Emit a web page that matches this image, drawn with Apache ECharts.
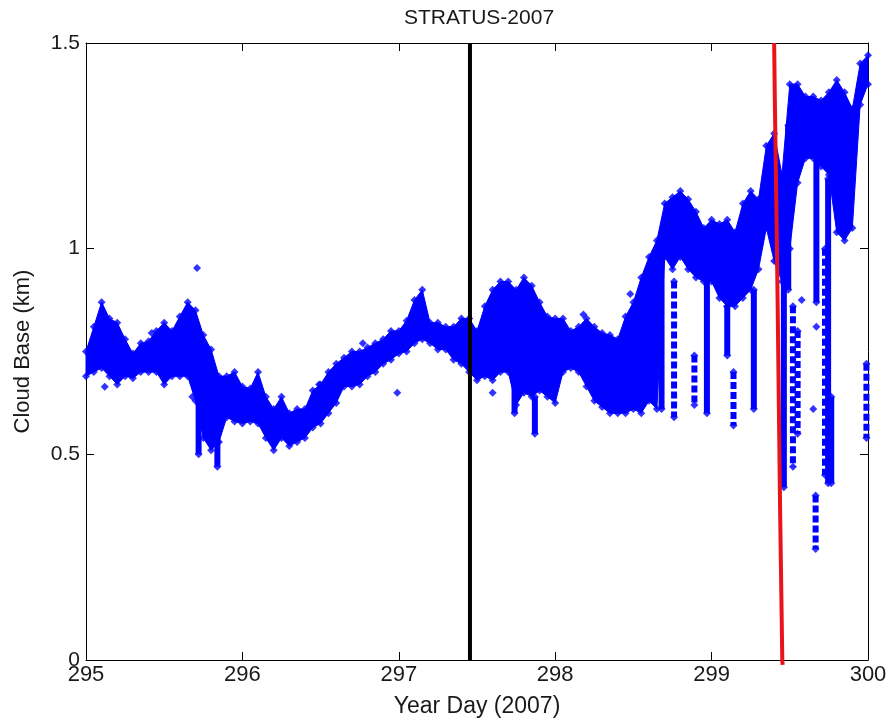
<!DOCTYPE html>
<html>
<head>
<meta charset="utf-8">
<script src="https://cdn.jsdelivr.net/npm/echarts@6/dist/echarts.min.js"></script>
<style>html,body{margin:0;padding:0;background:#fff}#c{width:890px;height:728px}</style>
</head>
<body>
<div id="c"></div>
<script>
// ---- data ----
const bandDay = [295.00,295.05,295.10,295.15,295.20,295.25,295.30,295.35,295.40,295.45,
 295.50,295.55,295.60,295.65,295.70,295.75,295.80,295.85,295.90,295.95,
 296.00,296.05,296.10,296.15,296.20,296.25,296.30,296.35,296.40,296.45,
 296.50,296.55,296.60,296.65,296.70,296.75,296.80,296.85,296.90,296.95,
 297.00,297.05,297.10,297.15,297.20,297.25,297.30,297.35,297.40,297.45,
 297.50,297.55,297.60,297.65,297.70,297.75,297.80,297.85,297.90,297.95,
 298.00,298.05,298.10,298.15,298.20,298.25,298.30,298.35,298.40,298.45,
 298.50,298.55,298.60,298.65,298.70,298.75,298.80,298.85,298.90,298.95,
 299.00,299.05,299.10,299.15,299.20,299.25,299.30,299.35,299.40,299.45,
 299.50,299.55,299.60,299.65,299.70,299.75,299.80,299.85,299.90,299.95,300.00];
const bandLo = [0.69,0.70,0.71,0.69,0.67,0.69,0.685,0.70,0.70,0.70,
 0.67,0.69,0.69,0.69,0.63,0.54,0.51,0.53,0.59,0.58,
 0.575,0.58,0.575,0.54,0.51,0.54,0.52,0.53,0.54,0.565,
 0.575,0.60,0.625,0.665,0.665,0.67,0.69,0.70,0.72,0.73,
 0.745,0.75,0.77,0.78,0.77,0.755,0.755,0.73,0.72,0.70,
 0.68,0.69,0.68,0.70,0.70,0.62,0.65,0.64,0.655,0.64,
 0.625,0.70,0.71,0.70,0.665,0.63,0.615,0.60,0.60,0.60,
 0.61,0.60,0.63,0.61,0.98,0.95,0.98,0.95,0.93,0.92,
 0.92,0.88,0.86,0.86,0.88,0.90,0.95,1.05,0.97,0.92,
 1.00,1.16,1.22,1.22,1.20,1.18,1.04,1.02,1.05,1.35,1.40];
const bandHi = [0.75,0.81,0.87,0.83,0.82,0.78,0.745,0.77,0.775,0.80,
 0.82,0.80,0.835,0.87,0.85,0.79,0.755,0.69,0.69,0.70,
 0.665,0.66,0.70,0.64,0.61,0.64,0.60,0.61,0.61,0.655,
 0.67,0.70,0.72,0.735,0.75,0.75,0.76,0.77,0.78,0.80,
 0.80,0.825,0.875,0.90,0.82,0.82,0.81,0.81,0.83,0.83,
 0.80,0.86,0.90,0.92,0.92,0.90,0.93,0.91,0.87,0.835,
 0.83,0.83,0.80,0.81,0.83,0.81,0.795,0.79,0.78,0.835,
 0.87,0.93,0.98,1.02,1.11,1.125,1.14,1.12,1.09,1.05,
 1.07,1.06,1.07,1.04,1.11,1.14,1.12,1.25,1.28,1.18,
 1.40,1.40,1.37,1.37,1.36,1.38,1.41,1.38,1.34,1.45,1.47];

// dense vertical columns of points
const colDay = [295.72,295.84,297.74,297.87,298.68,298.97,299.10,299.27,299.462,299.49,299.67,299.745,299.765];
const colLo  = [0.50,0.47,0.60,0.55,0.61,0.60,0.74,0.61,0.42,0.90,0.87,0.43,0.43];
const colHi  = [0.63,0.55,0.68,0.64,1.01,0.92,0.86,0.90,1.00,1.30,1.30,1.17,0.64];

// sparse (dotted) vertical columns of points
const dotDay = [298.76,298.89,299.14,299.52,299.55,299.665,299.725,299.99];
const dotLo  = [0.59,0.62,0.57,0.47,0.55,0.27,0.45,0.54];
const dotHi  = [0.92,0.74,0.70,0.86,0.80,0.40,1.00,0.72];

// isolated points
const outDay = [295.71,295.12,295.68,295.42,296.77,296.99,296.49,297.60,298.48,298.18,297.66,297.66,299.65,299.576,299.67];
const outVal = [0.953,0.664,0.64,0.795,0.77,0.65,0.67,0.65,0.89,0.84,0.75,0.72,0.61,0.875,0.81];

// vertical marker lines
const blackLineDay = [297.455,297.455];
const blackLineVal = [0,1.5];
const redLineDay = [299.400,299.404,299.414,299.422,299.430,299.438,299.452,299.454];
const redLineVal = [1.5,1.37,1.11,0.875,0.62,0.365,0.0,-0.012];

const xTicks = [295,296,297,298,299,300];
const yTicks = [0,0.5,1,1.5];

// ---- build ----
const BLUE = '#0000ff';
const FONT = 'Liberation Sans, Arial, sans-serif';
const TXT = '#1a1a1a';
const edgePts = [];
bandDay.forEach((d,i)=>{ edgePts.push([d,bandLo[i]]); edgePts.push([d,bandHi[i]]); });
const colPts = [];
colDay.forEach((d,i)=>{ colPts.push([d,colLo[i]]); colPts.push([d,colHi[i]]); });
dotDay.forEach((d,i)=>{ colPts.push([d,dotLo[i]]); colPts.push([d,dotHi[i]]); });
const outPts = outDay.map((d,i)=>[d,outVal[i]]);

const chart = echarts.init(document.getElementById('c'), null, {renderer:'canvas'});
const axisCommon = {
  type:'value',
  axisLine:{show:true,onZero:false,lineStyle:{color:'#000',width:1}},
  axisTick:{show:true,inside:true,length:8,lineStyle:{color:'#000'}},
  splitLine:{show:false}
};
chart.setOption({
  animation:false,
  backgroundColor:'#fff',
  title:{text:'STRATUS-2007',left:474,textAlign:'center',top:3,
    textStyle:{fontFamily:FONT,fontSize:21,fontWeight:'normal',color:TXT}},
  grid:{left:86,right:22,top:43,bottom:68},
  xAxis:[
    Object.assign({},axisCommon,{position:'bottom',min:295,max:300,interval:1,
      name:'Year Day (2007)',nameLocation:'middle',nameGap:35,
      nameTextStyle:{fontFamily:FONT,fontSize:23,color:TXT},
      axisLabel:{fontFamily:FONT,fontSize:22,color:TXT,margin:4,
        formatter:v=>xTicks.includes(v)?String(v):''}}),
    Object.assign({},axisCommon,{position:'top',min:295,max:300,interval:1,axisLabel:{show:false}})
  ],
  yAxis:[
    Object.assign({},axisCommon,{position:'left',min:0,max:1.5,interval:0.5,
      name:'Cloud Base (km)',nameLocation:'middle',nameGap:52,
      nameTextStyle:{fontFamily:FONT,fontSize:22,color:TXT},
      axisLabel:{fontFamily:FONT,fontSize:21,color:TXT,margin:6,
        formatter:v=>yTicks.includes(v)?String(v):''}}),
    Object.assign({},axisCommon,{position:'right',min:0,max:1.5,interval:0.5,axisLabel:{show:false}})
  ],
  series:[
    {type:'custom',name:'band',data:bandDay.map((d,i)=>[d,bandLo[i],bandHi[i]]),encode:{x:0,y:[1,2]},
     renderItem:function(params,api){
       if (params.dataIndex !== 0) return null;
       const pts = [];
       for (let i = 0; i < bandDay.length; i++) pts.push(api.coord([bandDay[i], bandHi[i]]));
       for (let i = bandDay.length - 1; i >= 0; i--) pts.push(api.coord([bandDay[i], bandLo[i]]));
       return {type:'polygon',shape:{points:pts},style:{fill:BLUE,stroke:BLUE,lineWidth:1}};
     }},
    {type:'custom',name:'cols',data:colDay.map((d,i)=>[d,colLo[i],colHi[i]]),encode:{x:0,y:[1,2]},
     renderItem:function(params,api){
       const p = api.coord([api.value(0),api.value(2)]);
       const q = api.coord([api.value(0),api.value(1)]);
       return {type:'line',shape:{x1:p[0],y1:p[1],x2:q[0],y2:q[1]},
         style:{stroke:BLUE,lineWidth:6}};
     }},
    {type:'custom',name:'dots',data:dotDay.map((d,i)=>[d,dotLo[i],dotHi[i]]),encode:{x:0,y:[1,2]},
     renderItem:function(params,api){
       const p = api.coord([api.value(0),api.value(2)]);
       const q = api.coord([api.value(0),api.value(1)]);
       return {type:'line',shape:{x1:p[0],y1:p[1],x2:q[0],y2:q[1]},
         style:{stroke:BLUE,lineWidth:6,lineDash:[7,3]}};
     }},
    {type:'scatter',name:'edges',data:edgePts,symbol:'diamond',symbolSize:8,
     itemStyle:{color:BLUE}},
    {type:'scatter',name:'colEnds',data:colPts,symbol:'diamond',symbolSize:8,
     itemStyle:{color:BLUE}},
    {type:'scatter',name:'outliers',data:outPts,symbol:'diamond',symbolSize:8,
     itemStyle:{color:BLUE}},
    {type:'line',name:'black',data:blackLineDay.map((d,i)=>[d,blackLineVal[i]]),
     symbol:'none',lineStyle:{color:'#000',width:4},z:5},
    {type:'line',name:'red',data:redLineDay.map((d,i)=>[d,redLineVal[i]]),clip:false,
     symbol:'none',lineStyle:{color:'#e8141a',width:4},z:5}
  ]
});
</script>
</body>
</html>
